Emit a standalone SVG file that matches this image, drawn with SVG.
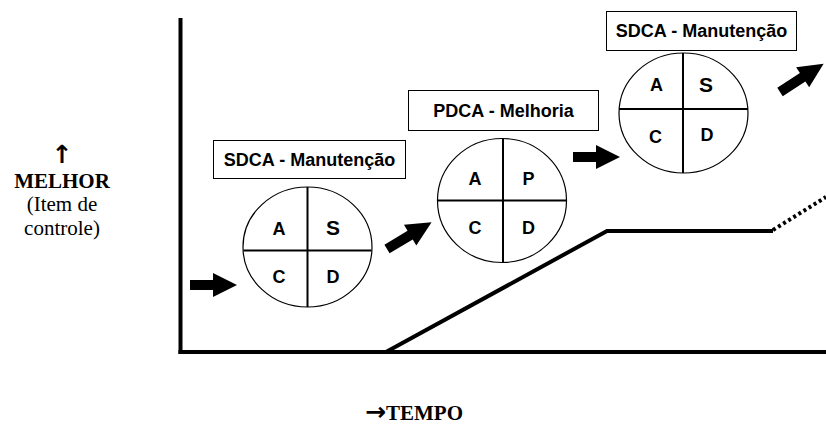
<svg xmlns="http://www.w3.org/2000/svg" width="826" height="428" viewBox="0 0 826 428">
<style>
.box{fill:#fff;stroke:#000;stroke-width:1}
.lbl{font-family:"Liberation Sans",Arial,sans-serif;font-weight:bold;font-size:18px;text-anchor:middle;fill:#000}
.q{font-family:"Liberation Sans",Arial,sans-serif;font-weight:bold;font-size:18px;text-anchor:middle;fill:#000}
.qs{font-size:21px}
.circ{fill:#fff;stroke:#000;stroke-width:1.2}
.cross{stroke:#000;stroke-width:2}
.axis{stroke:#000;stroke-width:4;fill:none}
.trend{stroke:#000;stroke-width:4;fill:none}
.dot{stroke:#000;stroke-width:4;fill:none;stroke-dasharray:3 3}
.ser{font-family:"Liberation Serif","Times New Roman",serif;font-size:21px;text-anchor:middle;fill:#000}
.sym{font-family:"DejaVu Sans",sans-serif;font-weight:bold;font-size:25px}
</style>
<defs>
<polygon id="ah" points="0,-5 23,-5 23,-12 47,0 23,12 23,5 0,5" fill="#000"/>
<polygon id="ad" points="0,-5 27,-5 27,-12 52,0 27,12 27,5 0,5" fill="#000"/>
</defs>

<g id="axes">
<line class="axis" x1="180.5" y1="18" x2="180.5" y2="354"/>
<line class="axis" x1="178.5" y1="352" x2="826" y2="352"/>
</g>

<g id="trend">
<polyline class="trend" points="386,352 607,231 773,231"/>
<line class="dot" x1="773" y1="230" x2="826" y2="197"/>
</g>

<g id="ylabel">
<text class="ser sym" x="62" y="163">↑</text>
<text class="ser" x="62" y="188" font-weight="bold">MELHOR</text>
<text class="ser" x="62" y="211">(Item de</text>
<text class="ser" x="62" y="235">controle)</text>
</g>

<g id="xlabel">
<text class="ser" x="414" y="420" font-weight="bold"><tspan class="sym">→</tspan>TEMPO</text>
</g>

<g id="label1">
<rect class="box" x="213.5" y="140.5" width="192" height="38"/>
<text class="lbl" x="309.5" y="165.5">SDCA - Manutenção</text>
</g>
<g id="cycle1">
<ellipse class="circ" cx="307.5" cy="247" rx="64.5" ry="60"/>
<line class="cross" x1="307.5" y1="187" x2="307.5" y2="307"/>
<line class="cross" x1="243.5" y1="250.5" x2="371.5" y2="250.5"/>
<text class="q" x="279" y="235">A</text>
<text class="q qs" x="333" y="235">S</text>
<text class="q" x="279" y="283">C</text>
<text class="q" x="333" y="283">D</text>
</g>

<g id="label2">
<rect class="box" x="408.5" y="90.5" width="190" height="40"/>
<text class="lbl" x="503.5" y="117">PDCA - Melhoria</text>
</g>
<g id="cycle2">
<ellipse class="circ" cx="502" cy="200.5" rx="64.5" ry="62"/>
<line class="cross" x1="503" y1="138.5" x2="503" y2="262.5"/>
<line class="cross" x1="437.5" y1="200.5" x2="566.5" y2="200.5"/>
<text class="q" x="475" y="184.5">A</text>
<text class="q" x="528.5" y="184.5">P</text>
<text class="q" x="475" y="233.5">C</text>
<text class="q" x="528.5" y="233.5">D</text>
</g>

<g id="label3">
<rect class="box" x="606.5" y="11.5" width="190" height="39"/>
<text class="lbl" x="701.5" y="37">SDCA - Manutenção</text>
</g>
<g id="cycle3">
<ellipse class="circ" cx="683.5" cy="113" rx="64.5" ry="60"/>
<line class="cross" x1="683" y1="53" x2="683" y2="173"/>
<line class="cross" x1="619" y1="109" x2="748" y2="109"/>
<text class="q" x="656.5" y="90.5">A</text>
<text class="q qs" x="706" y="92">S</text>
<text class="q" x="655.5" y="142.5">C</text>
<text class="q" x="707" y="141">D</text>
</g>

<g id="connectors">
<use href="#ah" x="190" y="285"/>
<use href="#ad" transform="translate(387,249) rotate(-31)"/>
<use href="#ah" x="573" y="157"/>
<use href="#ad" transform="translate(780,92) rotate(-33)"/>
</g>
</svg>
